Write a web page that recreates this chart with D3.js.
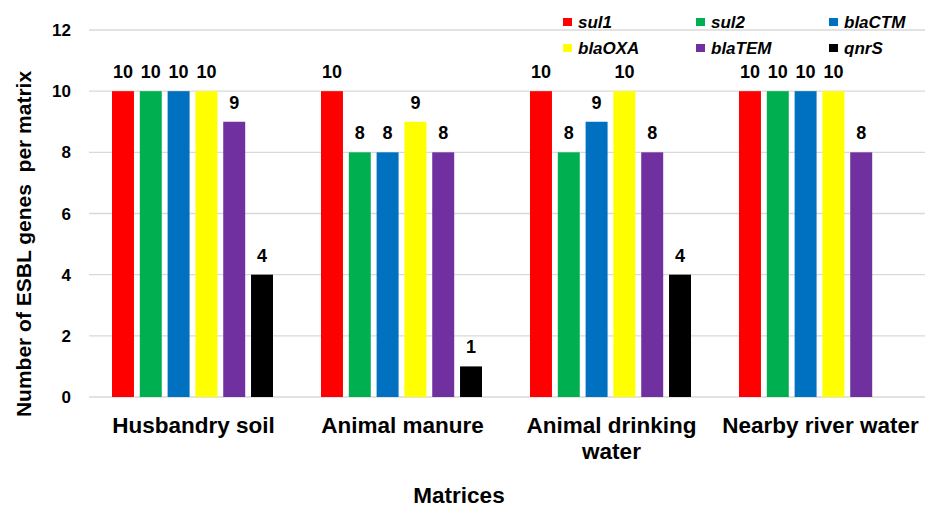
<!DOCTYPE html>
<html>
<head>
<meta charset="utf-8">
<script src="https://cdn.jsdelivr.net/npm/d3@7"></script>
<style>
  body { margin:0; background:#fff; }
  text { font-family: Arial, 'Liberation Sans', sans-serif; font-weight: bold; fill:#000; }
</style>
</head>
<body>
<svg id="chart" width="926" height="511"></svg>
<script>
var categories = ["Husbandry soil", "Animal manure", "Animal drinking water", "Nearby river water"];
var genes = ["sul1", "sul2", "blaCTM", "blaOXA", "blaTEM", "qnrS"];
var geneColors = ["#ff0000", "#00b050", "#0070c0", "#ffff00", "#7030a0", "#000000"];
var sul1   = [10, 10, 10, 10];
var sul2   = [10, 8, 8, 10];
var blaCTM = [10, 8, 9, 10];
var blaOXA = [10, 9, 10, 10];
var blaTEM = [9, 8, 8, 8];
var qnrS   = [4, 1, 4, 0];
var yTicks = [0, 2, 4, 6, 8, 10, 12];

var series = [sul1, sul2, blaCTM, blaOXA, blaTEM, qnrS];

var svg = d3.select("#chart");
var plotLeft = 89, plotRight = 925, plotTop = 30, plotBottom = 397;

var x0 = d3.scaleBand().domain(categories).range([plotLeft, plotRight]).padding(0);
var x1 = d3.scaleBand().domain(genes).range([23, 184]).paddingInner(0.21).paddingOuter(0);
var y = d3.scaleLinear().domain([0, 12]).range([plotBottom, plotTop]);
var color = d3.scaleOrdinal().domain(genes).range(geneColors);

// gridlines
svg.append("g").selectAll("line").data(yTicks).enter().append("line")
  .attr("x1", plotLeft).attr("x2", plotRight)
  .attr("y1", function(d) { return y(d); }).attr("y2", function(d) { return y(d); })
  .attr("stroke", "#d9d9d9").attr("stroke-width", 1.3);

// y tick labels
svg.append("g").selectAll("text").data(yTicks).enter().append("text")
  .attr("x", 71).attr("y", function(d) { return y(d); })
  .attr("dy", "0.36em").attr("text-anchor", "end")
  .style("font-size", "17px")
  .text(function(d) { return d; });

// bars
var rows = [];
categories.forEach(function(c, i) {
  genes.forEach(function(g, j) {
    rows.push({cat: c, gene: g, value: series[j][i]});
  });
});
var shown = rows.filter(function(d) { return d.value > 0; });

svg.append("g").selectAll("rect").data(shown).enter().append("rect")
  .attr("x", function(d) { return x0(d.cat) + x1(d.gene); })
  .attr("y", function(d) { return y(d.value); })
  .attr("width", x1.bandwidth())
  .attr("height", function(d) { return plotBottom - y(d.value); })
  .attr("fill", function(d) { return color(d.gene); });

svg.append("g").selectAll("text").data(shown).enter().append("text")
  .attr("x", function(d) { return x0(d.cat) + x1(d.gene) + x1.bandwidth() / 2; })
  .attr("y", function(d) { return y(d.value) - 13; })
  .attr("text-anchor", "middle")
  .style("font-size", "18px")
  .text(function(d) { return d.value; });

// category labels
var catLabels = svg.append("g").selectAll("text").data(categories).enter().append("text")
  .attr("x", function(d) { return x0(d) + x0.bandwidth() / 2; })
  .attr("y", 433)
  .attr("text-anchor", "middle")
  .style("font-size", "22.5px");
catLabels.each(function(d) {
  var t = d3.select(this);
  var lines = d == "Animal drinking water" ? ["Animal drinking", "water"] : [d];
  lines.forEach(function(l, i) {
    t.append("tspan").attr("x", t.attr("x")).attr("dy", i ? 26 : 0).text(l);
  });
});

// axis titles
svg.append("text")
  .attr("transform", "translate(31,244) rotate(-90)")
  .attr("text-anchor", "middle")
  .style("font-size", "21px")
  .style("white-space", "pre")
  .text("Number of ESBL genes  per matrix");

svg.append("text")
  .attr("x", 459).attr("y", 503)
  .attr("text-anchor", "middle")
  .style("font-size", "22.5px")
  .text("Matrices");

// legend
var legend = svg.append("g").selectAll("g").data(genes).enter().append("g")
  .attr("transform", function(d, i) {
    return "translate(" + (563 + (i % 3) * 133) + "," + (22 + Math.floor(i / 3) * 26) + ")";
  });
legend.append("rect")
  .attr("x", 0).attr("y", -4).attr("width", 9).attr("height", 8)
  .attr("fill", function(d) { return color(d); });
legend.append("text")
  .attr("x", 15).attr("dy", "0.36em")
  .style("font-size", "17px").style("font-style", "italic")
  .text(function(d) { return d; });
</script>
</body>
</html>
